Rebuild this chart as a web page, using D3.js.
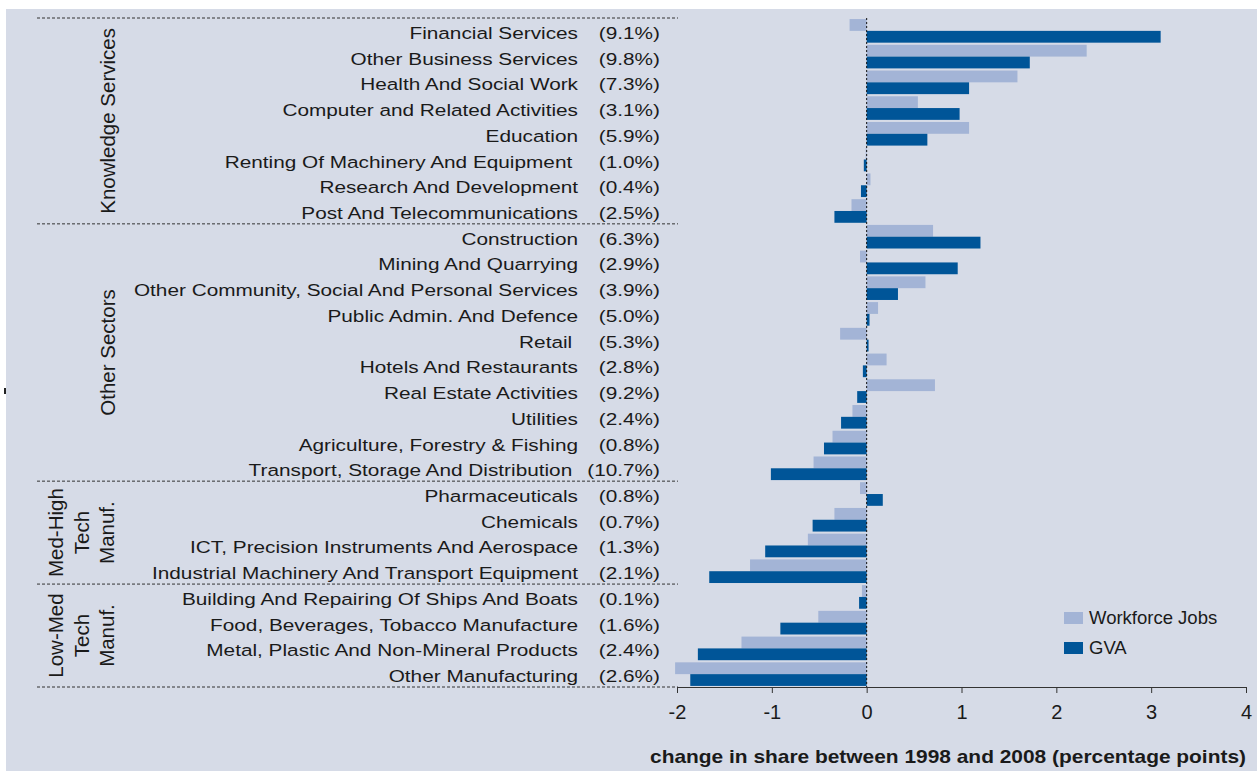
<!DOCTYPE html>
<html>
<head>
<meta charset="utf-8">
<script src="https://cdn.jsdelivr.net/npm/d3@7"></script>
<style>
  body { margin: 0; background: #fff; }
  text { font-family: "Liberation Sans", Arial, sans-serif; fill: #1a1a1a; }
</style>
</head>
<body>
<script>
// categories, top to bottom
var categories = [
  "Financial Services", "Other Business Services", "Health And Social Work",
  "Computer and Related Activities", "Education", "Renting Of Machinery And Equipment ",
  "Research And Development", "Post And Telecommunications",
  "Construction", "Mining And Quarrying", "Other Community, Social And Personal Services",
  "Public Admin. And Defence", "Retail ", "Hotels And Restaurants", "Real Estate Activities",
  "Utilities", "Agriculture, Forestry & Fishing", "Transport, Storage And Distribution ",
  "Pharmaceuticals", "Chemicals", "ICT, Precision Instruments And Aerospace",
  "Industrial Machinery And Transport Equipment",
  "Building And Repairing Of Ships And Boats", "Food, Beverages, Tobacco Manufacture",
  "Metal, Plastic And Non-Mineral Products", "Other Manufacturing"
];
var shares = ["(9.1%)", "(9.8%)", "(7.3%)", "(3.1%)", "(5.9%)", "(1.0%)", "(0.4%)", "(2.5%)",
  "(6.3%)", "(2.9%)", "(3.9%)", "(5.0%)", "(5.3%)", "(2.8%)", "(9.2%)", "(2.4%)", "(0.8%)", "(10.7%)",
  "(0.8%)", "(0.7%)", "(1.3%)", "(2.1%)",
  "(0.1%)", "(1.6%)", "(2.4%)", "(2.6%)"];
var workforceJobs = [-0.18, 2.32, 1.59, 0.54, 1.08, -0.01, 0.04, -0.16,
  0.70, -0.07, 0.62, 0.12, -0.28, 0.21, 0.72, -0.15, -0.36, -0.56,
  -0.07, -0.34, -0.62, -1.23,
  -0.05, -0.51, -1.32, -2.02];
var gva = [3.10, 1.72, 1.08, 0.98, 0.64, -0.03, -0.06, -0.34,
  1.20, 0.96, 0.33, 0.03, 0.02, -0.04, -0.10, -0.27, -0.45, -1.01,
  0.17, -0.57, -1.07, -1.66,
  -0.08, -0.91, -1.78, -1.86];
// groups: [first index, last index, label lines]
var groups = [
  [0, 7, ["Knowledge Services"]],
  [8, 17, ["Other Sectors"]],
  [18, 21, ["Med-High", "Tech", "Manuf."]],
  [22, 25, ["Low-Med", "Tech", "Manuf."]]
];
var xTicks = [-2, -1, 0, 1, 2, 3, 4];
var seriesNames = ["Workforce Jobs", "GVA"];
var colors = ["#a3b4d6", "#005598"];

var W = 1259, H = 771;
var svg = d3.select("body").append("svg").attr("width", W).attr("height", H);

svg.append("rect").attr("x", 6).attr("y", 9).attr("width", W - 8).attr("height", H - 9)
  .attr("fill", "#d6dbe7");
svg.append("rect").attr("x", 4).attr("y", 388).attr("width", 2).attr("height", 6).attr("fill", "#222");

var x = d3.scaleLinear().domain([-2, 4]).range([677, 1246]);
var y = d3.scaleBand().domain(d3.range(categories.length)).range([18, 687]);
var sub = d3.scaleBand().domain([0, 1]).range([0, y.bandwidth()]).paddingOuter(0.09);

// bars
var rows = svg.append("g").selectAll("g")
  .data(categories)
  .enter().append("g")
  .attr("transform", function (d, i) { return "translate(0," + y(i) + ")"; });

rows.selectAll("rect")
  .data(function (d, i) { return [workforceJobs[i], gva[i]]; })
  .enter().append("rect")
  .attr("x", function (d) { return x(Math.min(0, d)); })
  .attr("width", function (d) { return Math.abs(x(d) - x(0)); })
  .attr("y", function (d, j) { return sub(j); })
  .attr("height", sub.bandwidth())
  .attr("fill", function (d, j) { return colors[j]; });

// category labels, stretched horizontally like the original
rows.append("text")
  .attr("transform", "translate(578," + (y.bandwidth() / 2 + 8) + ") scale(1.26,1)")
  .attr("text-anchor", "end")
  .style("font-size", "16.5px")
  .style("white-space", "pre")
  .text(function (d) { return d; });

rows.append("text")
  .attr("transform", "translate(660," + (y.bandwidth() / 2 + 8) + ") scale(1.26,1)")
  .attr("text-anchor", "end")
  .style("font-size", "16.5px")
  .text(function (d, i) { return shares[i]; });

// group separators
var seps = [18].concat(groups.map(function (g) { return y(g[1]) + y.bandwidth(); }));
svg.append("g").selectAll("line")
  .data(seps)
  .enter().append("line")
  .attr("x1", 37).attr("x2", 678)
  .attr("y1", function (d) { return d; }).attr("y2", function (d) { return d; })
  .attr("stroke", "#333").attr("stroke-dasharray", "3,2");

// group labels
var glab = svg.append("g").selectAll("text")
  .data(groups)
  .enter().append("text")
  .attr("transform", function (g) {
    var cy = (y(g[0]) + y(g[1]) + y.bandwidth()) / 2;
    var cx = g[2].length > 1 ? 56 : 108;
    return "translate(" + cx + "," + cy + ") rotate(-90)";
  })
  .attr("text-anchor", "middle")
  .style("font-size", "20.5px");
glab.selectAll("tspan")
  .data(function (g) { return g[2]; })
  .enter().append("tspan")
  .attr("x", 0)
  .attr("y", function (d, i) { return i * 25.5; })
  .attr("dy", "0.35em")
  .text(function (d) { return d; });

// zero line
svg.append("line")
  .attr("x1", x(0)).attr("x2", x(0)).attr("y1", 18).attr("y2", 687)
  .attr("stroke", "#111").attr("stroke-dasharray", "2,2");

// x axis
var axis = svg.append("g").attr("transform", "translate(0,687)")
  .call(d3.axisBottom(x).tickValues(xTicks).tickSize(6).tickFormat(function (d) { return String(d); }));
axis.select(".domain").attr("stroke", "#333");
axis.selectAll(".tick line").attr("stroke", "#333");
axis.selectAll(".tick text")
  .attr("y", 18).attr("dy", "0.71em")
  .style("font-size", "20px")
  .attr("fill", "#1a1a1a")
  .style("font-family", "'Liberation Sans', Arial, sans-serif");

svg.append("text")
  .attr("x", 650).attr("y", 763)
  .attr("textLength", 596).attr("lengthAdjust", "spacingAndGlyphs")
  .style("font-size", "19px").style("font-weight", "bold")
  .text("change in share between 1998 and 2008 (percentage points)");

// legend
var leg = svg.append("g").selectAll("g")
  .data(seriesNames)
  .enter().append("g")
  .attr("transform", function (d, i) { return "translate(1064," + (612 + i * 30) + ")"; });
leg.append("rect").attr("width", 19).attr("height", 12)
  .attr("fill", function (d, i) { return colors[i]; });
leg.append("text").attr("x", 25).attr("y", 12)
  .style("font-size", "18.5px")
  .text(function (d) { return d; });
</script>
</body>
</html>
